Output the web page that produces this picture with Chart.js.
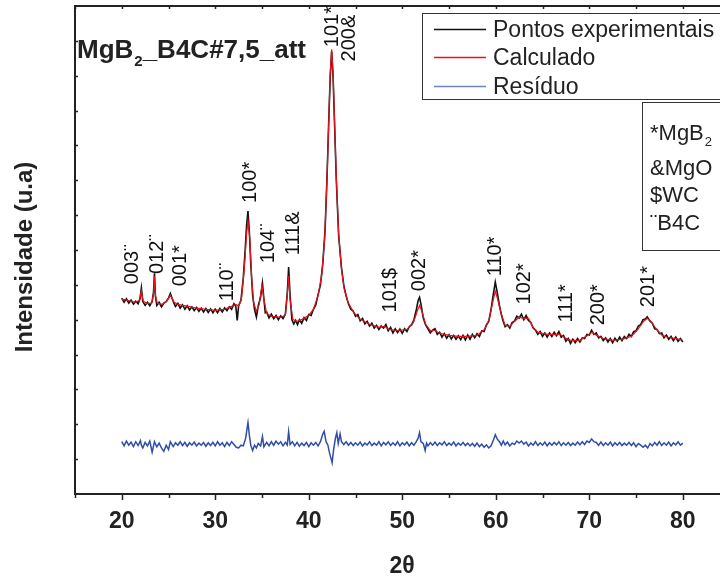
<!DOCTYPE html>
<html>
<head>
<meta charset="utf-8">
<script src="https://cdn.jsdelivr.net/npm/chart.js@4.4.1/dist/chart.umd.min.js"></script>
<style>
  html, body { margin: 0; padding: 0; background: #fff; }
  #wrap { width: 720px; height: 578px; overflow: hidden; position: relative; }
  #chart { position: absolute; left: 0; top: 0; }
</style>
</head>
<body>
<div id="wrap"><canvas id="chart" width="740" height="578"></canvas></div>
<script>
// eixo x: 2theta, eixo y: intensidade (u.a)
const xTicks = [20, 30, 40, 50, 60, 70, 80];

// Pontos experimentais [2theta, I]
const expPoints = [
  [20.00,562],[20.25,550],[20.50,560],[20.75,548],[21.00,556],[21.25,545],[21.50,553],[21.75,546],
  [21.95,560],[22.10,591],[22.25,552],[22.50,541],[22.75,550],[23.00,540],[23.25,552],[23.40,580],
  [23.50,633],[23.60,568],[23.75,541],[24.00,550],[24.25,537],[24.50,548],[24.75,552],[25.00,562],
  [25.20,575],[25.40,560],[25.60,546],[25.75,538],[26.00,547],[26.25,533],[26.50,543],[26.75,530],
  [27.00,540],[27.25,528],[27.50,537],[27.75,526],[28.00,535],[28.25,524],[28.50,533],[28.75,522],
  [29.00,532],[29.25,521],[29.50,531],[29.75,520],[30.00,530],[30.25,520],[30.50,532],[30.75,522],
  [31.00,534],[31.25,526],[31.50,537],[31.75,530],[32.00,546],[32.20,538],[32.35,498],[32.50,540],
  [32.75,556],[33.00,620],[33.20,700],[33.35,770],[33.50,812],[33.65,750],[33.80,660],[34.00,570],
  [34.20,530],[34.40,508],[34.60,540],[34.85,565],[35.05,605],[35.20,560],[35.35,520],[35.50,522],
  [35.75,505],[36.00,516],[36.25,503],[36.50,512],[36.75,500],[37.00,511],[37.25,503],[37.50,516],
  [37.70,575],[37.85,651],[38.00,570],[38.20,500],[38.40,488],[38.60,498],[38.80,486],[39.00,500],
  [39.25,490],[39.50,506],[39.75,498],[40.00,515],[40.25,512],[40.50,530],[40.75,542],[41.00,572],
  [41.25,600],[41.50,660],[41.75,760],[41.95,905],[42.15,1080],[42.30,1200],[42.45,1270],[42.60,1200],
  [42.75,1070],[42.95,900],[43.20,740],[43.50,650],[43.75,598],[44.00,568],[44.25,545],[44.50,530],
  [44.75,525],[45.00,510],[45.25,515],[45.50,497],[45.75,504],[46.00,488],[46.25,495],[46.50,482],
  [46.75,490],[47.00,476],[47.25,484],[47.50,472],[47.75,482],[48.00,476],[48.25,486],[48.50,468],
  [48.75,478],[49.00,462],[49.25,474],[49.50,463],[49.75,473],[50.00,461],[50.25,474],[50.50,466],
  [50.75,480],[51.00,485],[51.25,500],[51.50,528],[51.70,555],[51.85,564],[52.00,545],[52.25,505],
  [52.50,485],[52.75,474],[53.00,462],[53.25,470],[53.50,474],[53.75,458],[54.00,464],[54.25,450],
  [54.50,460],[54.75,447],[55.00,457],[55.25,445],[55.50,455],[55.75,444],[56.00,454],[56.25,443],
  [56.50,455],[56.75,442],[57.00,456],[57.25,444],[57.50,458],[57.75,448],[58.00,460],[58.25,452],
  [58.50,468],[58.75,466],[59.00,485],[59.25,495],[59.50,530],[59.75,575],[59.95,608],[60.15,580],
  [60.40,540],[60.60,515],[60.80,495],[61.00,480],[61.25,486],[61.50,476],[61.75,492],[62.00,496],
  [62.25,510],[62.50,505],[62.75,516],[63.00,500],[63.25,512],[63.50,498],[63.75,492],[64.00,476],
  [64.25,470],[64.50,458],[64.75,466],[65.00,452],[65.25,462],[65.50,450],[65.75,462],[66.00,452],
  [66.25,464],[66.50,454],[66.75,466],[67.00,450],[67.25,455],[67.50,438],[67.75,446],[68.00,432],
  [68.25,444],[68.50,434],[68.75,446],[69.00,436],[69.25,448],[69.50,446],[69.75,458],[70.00,456],
  [70.25,470],[70.50,458],[70.75,462],[71.00,448],[71.25,452],[71.50,440],[71.75,448],[72.00,436],
  [72.25,446],[72.50,434],[72.75,447],[73.00,438],[73.25,450],[73.50,440],[73.75,452],[74.00,446],
  [74.25,458],[74.50,452],[74.75,466],[75.00,468],[75.25,482],[75.50,486],[75.75,500],[76.00,502],
  [76.20,508],[76.50,496],[76.75,490],[77.00,474],[77.25,472],[77.50,460],[77.75,462],[78.00,448],
  [78.25,456],[78.50,444],[78.75,452],[79.00,440],[79.25,450],[79.50,438],[79.75,446],[80.00,436]
];

// Calculado
const calcPoints = [
  [20.0,559],[20.5,556],[21.0,553],[21.5,550],[21.9,556],[22.1,582],[22.3,553],[22.7,547],
  [23.2,547],[23.4,573],[23.5,625],[23.6,570],[23.8,547],[24.3,544],[24.8,553],[25.2,570],
  [25.6,550],[26.0,544],[26.5,541],[27.0,539],[27.5,536],[28.0,533],[29.0,530],[30.0,527],
  [31.0,530],[31.8,539],[32.2,544],[32.5,539],[32.8,559],[33.1,645],[33.35,746],[33.5,783],
  [33.7,732],[33.9,616],[34.1,550],[34.4,524],[34.7,544],[35.0,599],[35.2,559],[35.5,518],
  [36.0,510],[37.0,507],[37.5,513],[37.7,570],[37.85,625],[38.0,559],[38.3,501],[38.7,495],
  [39.3,501],[40.0,513],[40.5,530],[41.0,570],[41.4,631],[41.7,732],[41.95,904],[42.15,1077],
  [42.3,1207],[42.45,1276],[42.6,1207],[42.75,1077],[42.95,904],[43.2,746],[43.5,645],[43.8,588],
  [44.2,550],[44.8,521],[45.5,501],[46.5,487],[47.5,478],[48.1,481],[48.6,472],[49.5,469],
  [50.5,472],[51.2,492],[51.6,524],[51.85,541],[52.1,524],[52.5,487],[53.0,469],[53.5,469],
  [54.0,461],[55.0,455],[56.0,452],[57.0,452],[58.0,455],[58.8,472],[59.3,501],[59.7,553],
  [59.95,582],[60.2,559],[60.6,516],[61.0,484],[61.5,481],[62.0,495],[62.5,507],[63.0,504],
  [63.5,504],[64.0,478],[64.5,464],[65.5,458],[66.5,458],[66.9,458],[67.3,449],[68.0,441],
  [69.0,441],[69.8,455],[70.3,464],[70.8,455],[71.5,446],[72.5,441],[73.5,444],[74.5,452],
  [75.2,472],[75.8,495],[76.2,504],[76.6,495],[77.2,472],[77.8,455],[78.5,449],[79.3,446],
  [80.0,441]
];

// Residuo (deslocado)
const residPoints = [
  [20.00,150],[20.25,138],[20.50,152],[20.75,140],[21.00,149],[21.25,136],[21.50,150],[21.75,139],
  [22.00,153],[22.10,140],[22.25,132],[22.50,148],[22.75,138],[23.00,152],[23.25,120],[23.50,150],
  [23.75,135],[24.00,146],[24.25,132],[24.50,122],[24.75,140],[25.00,128],[25.20,150],[25.50,136],
  [25.75,147],[26.00,140],[26.25,150],[26.50,139],[26.75,148],[27.00,137],[27.25,147],[27.50,140],
  [27.75,149],[28.00,138],[28.25,146],[28.50,140],[28.75,148],[29.00,137],[29.25,147],[29.50,139],
  [29.75,148],[30.00,138],[30.25,150],[30.50,140],[30.75,147],[31.00,136],[31.25,148],[31.50,139],
  [31.75,150],[32.00,142],[32.25,134],[32.50,132],[32.75,140],[33.00,138],[33.25,160],[33.50,205],
  [33.65,168],[33.80,140],[34.00,125],[34.20,140],[34.40,132],[34.60,145],[34.85,138],[35.05,165],
  [35.20,135],[35.50,148],[35.75,138],[36.00,150],[36.25,140],[36.50,152],[36.75,143],[37.00,150],
  [37.25,138],[37.50,148],[37.70,140],[37.85,179],[38.00,142],[38.25,150],[38.50,138],[38.75,148],
  [39.00,137],[39.25,146],[39.50,139],[39.75,148],[40.00,136],[40.25,147],[40.50,140],[40.75,148],
  [41.00,138],[41.25,150],[41.50,172],[41.65,180],[41.85,150],[42.05,140],[42.20,120],[42.40,100],
  [42.50,90],[42.65,125],[42.85,160],[43.00,176],[43.15,145],[43.35,172],[43.50,150],[43.75,142],
  [44.00,150],[44.25,140],[44.50,148],[44.75,139],[45.00,147],[45.25,140],[45.50,149],[45.75,138],
  [46.00,146],[46.25,141],[46.50,150],[46.75,139],[47.00,146],[47.25,140],[47.50,150],[47.75,138],
  [48.00,148],[48.25,141],[48.50,150],[48.75,139],[49.00,147],[49.25,140],[49.50,150],[49.75,138],
  [50.00,147],[50.25,141],[50.50,149],[50.75,138],[51.00,147],[51.25,140],[51.50,150],[51.70,160],
  [51.85,176],[52.00,150],[52.25,145],[52.45,125],[52.60,146],[52.75,138],[53.00,147],[53.25,140],
  [53.50,149],[53.75,139],[54.00,147],[54.25,141],[54.50,150],[54.75,139],[55.00,146],[55.25,140],
  [55.50,149],[55.75,138],[56.00,146],[56.25,140],[56.50,148],[56.75,139],[57.00,146],[57.25,138],
  [57.50,145],[57.75,137],[58.00,146],[58.25,136],[58.50,143],[58.75,134],[59.00,141],[59.25,132],
  [59.50,138],[59.75,155],[59.95,170],[60.15,158],[60.40,150],[60.60,140],[60.80,152],[61.00,141],
  [61.25,149],[61.50,138],[61.75,146],[62.00,142],[62.25,152],[62.50,146],[62.75,152],[63.00,143],
  [63.25,149],[63.50,138],[63.75,146],[64.00,140],[64.25,150],[64.50,139],[64.75,147],[65.00,140],
  [65.25,149],[65.50,138],[65.75,147],[66.00,140],[66.25,148],[66.50,141],[66.75,150],[67.00,139],
  [67.25,147],[67.50,140],[67.75,148],[68.00,139],[68.25,146],[68.50,140],[68.75,149],[69.00,141],
  [69.25,150],[69.50,142],[69.75,152],[70.00,148],[70.25,158],[70.50,150],[70.75,148],[71.00,140],
  [71.25,149],[71.50,139],[71.75,147],[72.00,140],[72.25,149],[72.50,138],[72.75,147],[73.00,140],
  [73.25,148],[73.50,139],[73.75,146],[74.00,140],[74.25,148],[74.50,139],[74.75,147],[75.00,136],
  [75.25,145],[75.50,140],[75.75,134],[76.00,140],[76.25,132],[76.50,145],[76.75,138],[77.00,148],
  [77.25,140],[77.50,150],[77.75,139],[78.00,147],[78.25,140],[78.50,149],[78.75,138],[79.00,147],
  [79.25,141],[79.50,150],[79.75,140],[80.00,146]
];

// indexacao dos picos: texto, 2theta, intensidade onde o texto comeca
const peakText = ['003\u00a8', '012\u00a8', '001*', '110\u00a8', '100*', '104\u00a8', '111&', '101*',
                  '200&', '101$', '002*', '110*', '102*', '111*', '200*', '201*'];
const peakAngle = [20.96, 23.63, 26.09, 31.11, 33.57, 35.49, 38.16, 42.33,
                   44.15, 48.53, 51.73, 59.85, 62.95, 67.44, 70.85, 76.2];
const peakLabelI = [602, 631, 596, 553, 835, 662, 685, 1282,
                    1241, 521, 582, 625, 544, 492, 484, 536];

const FONT = '"Liberation Sans", Arial, sans-serif';

const toXY = pts => pts.map(p => ({ x: p[0], y: p[1] }));

const decor = {
  id: 'decor',
  afterDraw(chart) {
    const ctx = chart.ctx;
    const xs = chart.scales.x, ys = chart.scales.y;
    const a = chart.chartArea;
    ctx.save();
    ctx.strokeStyle = '#222';
    ctx.fillStyle = '#222';

    // borda de cima
    ctx.lineWidth = 2;
    ctx.beginPath();
    ctx.moveTo(a.left, a.top); ctx.lineTo(a.right + 20, a.top);
    ctx.stroke();

    // ticks
    ctx.lineWidth = 1.5;
    ctx.beginPath();
    for (let v = 15; v <= 85; v += 5) {
      const px = Math.round(xs.getPixelForValue(v)) + 0.5;
      const len = v % 10 === 0 ? 6 : 4;
      ctx.moveTo(px, a.bottom); ctx.lineTo(px, a.bottom + len);
      ctx.moveTo(px, a.top); ctx.lineTo(px, a.top + 3);
    }
    for (let v = 100; v < 1400; v += 100) {
      const py = Math.round(ys.getPixelForValue(v)) + 0.5;
      ctx.moveTo(a.left, py); ctx.lineTo(a.left + 3, py);
    }
    ctx.stroke();

    // rotulos dos picos
    ctx.fillStyle = '#111';
    ctx.font = '20px ' + FONT;
    ctx.textAlign = 'left';
    ctx.textBaseline = 'alphabetic';
    peakText.forEach((t, i) => {
      const px = xs.getPixelForValue(peakAngle[i]);
      const py = ys.getPixelForValue(peakLabelI[i]);
      ctx.save();
      ctx.translate(px + 7, py);
      ctx.rotate(-Math.PI / 2);
      ctx.fillText(t, 0, 0);
      ctx.restore();
    });

    // titulo da amostra
    ctx.fillStyle = '#222';
    let x0 = 77;
    ctx.font = 'bold 26px ' + FONT;
    ctx.fillText('MgB', x0, 58);
    x0 += ctx.measureText('MgB').width;
    ctx.font = 'bold 15px ' + FONT;
    ctx.fillText('2', x0 + 1, 66);
    x0 += ctx.measureText('2').width + 1;
    ctx.font = 'bold 26px ' + FONT;
    ctx.fillText('_B4C#7,5_att', x0, 58);

    // titulos dos eixos
    ctx.font = 'bold 23px ' + FONT;
    ctx.textAlign = 'center';
    ctx.fillText('2\u03b8', 402, 573);
    ctx.save();
    ctx.translate(32, 257);
    ctx.rotate(-Math.PI / 2);
    ctx.font = 'bold 24px ' + FONT;
    ctx.fillText('Intensidade (u.a)', 0, 0);
    ctx.restore();

    // legenda
    ctx.lineWidth = 1;
    ctx.strokeStyle = '#333';
    ctx.strokeRect(422.5, 13.5, 340, 86);
    ctx.textAlign = 'left';
    ctx.font = '23px ' + FONT;
    const rows = [29, 57, 86];
    chart.data.datasets.forEach((ds, i) => {
      ctx.strokeStyle = ds.legendColor || ds.borderColor;
      ctx.lineWidth = 1.3;
      ctx.beginPath();
      ctx.moveTo(434, rows[i] + 0.5); ctx.lineTo(486, rows[i] + 0.5);
      ctx.stroke();
      ctx.fillStyle = '#222';
      ctx.fillText(ds.label, 493, rows[i] + 8);
    });

    // fases
    ctx.strokeStyle = '#333';
    ctx.lineWidth = 1;
    ctx.strokeRect(642.5, 102.5, 120, 148);
    ctx.font = '22px ' + FONT;
    ctx.fillText('*MgB', 650, 140);
    const w = ctx.measureText('*MgB').width;
    ctx.font = '13px ' + FONT;
    ctx.fillText('2', 650 + w + 1, 146);
    ctx.font = '22px ' + FONT;
    ctx.fillText('&MgO', 650, 175);
    ctx.fillText('$WC', 650, 202);
    ctx.fillText('\u00a8B4C', 650, 230);

    ctx.restore();
  }
};

new Chart(document.getElementById('chart'), {
  type: 'line',
  data: {
    datasets: [
      { label: 'Pontos experimentais', data: toXY(expPoints), borderColor: '#111', legendColor: '#111',
        borderWidth: 1.6, pointRadius: 0, order: 3 },
      { label: 'Calculado', data: toXY(calcPoints), borderColor: '#e8121a',
        borderWidth: 1.2, pointRadius: 0, order: 1 },
      { label: 'Resíduo', data: toXY(residPoints), borderColor: '#2f4ea6', legendColor: '#6c83c8',
        borderWidth: 1.5, pointRadius: 0, order: 2 }
    ]
  },
  options: {
    responsive: false,
    animation: false,
    layout: { padding: { left: 0, top: 6, right: 10.5, bottom: 0 } },
    plugins: { legend: { display: false }, tooltip: { enabled: false } },
    scales: {
      x: {
        type: 'linear', min: 15, max: 85,
        grid: { display: false, drawTicks: false },
        border: { display: true, width: 2, color: '#222' },
        afterBuildTicks: s => { s.ticks = xTicks.map(v => ({ value: v })); },
        afterFit: s => { s.height = 84; },
        ticks: { padding: 14, color: '#222', font: { family: FONT, size: 23, weight: 'bold' } }
      },
      y: {
        min: 0, max: 1400,
        grid: { display: false, drawTicks: false },
        border: { display: true, width: 2, color: '#222' },
        ticks: { display: false },
        afterFit: s => { s.width = 75; }
      }
    }
  },
  plugins: [decor]
});
</script>
</body>
</html>
